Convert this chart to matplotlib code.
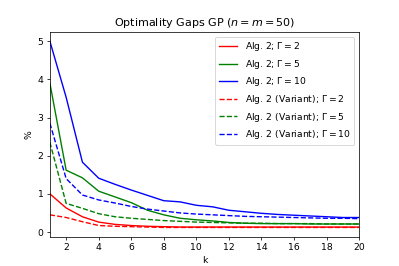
import matplotlib
matplotlib.use("Agg")
import matplotlib.pyplot as plt

k = list(range(1, 21))
alg_g2 = [1.0, 0.63, 0.40, 0.26, 0.20, 0.17, 0.15, 0.14, 0.13, 0.13, 0.13, 0.13, 0.13, 0.13, 0.13, 0.13, 0.13, 0.13, 0.13, 0.13]
alg_g5 = [3.9, 1.62, 1.42, 1.07, 0.92, 0.77, 0.57, 0.45, 0.36, 0.32, 0.29, 0.25, 0.23, 0.22, 0.22, 0.22, 0.21, 0.21, 0.21, 0.21]
alg_g10 = [5.0, 3.53, 1.83, 1.41, 1.25, 1.10, 0.96, 0.82, 0.79, 0.70, 0.66, 0.57, 0.53, 0.49, 0.46, 0.44, 0.42, 0.40, 0.38, 0.38]
var_g2 = [0.45, 0.38, 0.27, 0.17, 0.15, 0.14, 0.13, 0.12, 0.12, 0.12, 0.12, 0.12, 0.12, 0.12, 0.12, 0.12, 0.12, 0.12, 0.12, 0.12]
var_g5 = [2.35, 0.75, 0.62, 0.48, 0.40, 0.36, 0.33, 0.30, 0.28, 0.26, 0.25, 0.24, 0.23, 0.23, 0.22, 0.22, 0.22, 0.21, 0.21, 0.21]
var_g10 = [2.85, 1.40, 0.97, 0.84, 0.76, 0.67, 0.60, 0.55, 0.50, 0.47, 0.45, 0.43, 0.41, 0.40, 0.39, 0.38, 0.37, 0.36, 0.36, 0.35]
xticks = [2, 4, 6, 8, 10, 12, 14, 16, 18, 20]

fig, ax = plt.subplots(figsize=(6, 4), dpi=66.5)
ax.plot(k, alg_g2, color='red', label=r'Alg. 2; $\Gamma = 2$')
ax.plot(k, alg_g5, color='green', label=r'Alg. 2; $\Gamma = 5$')
ax.plot(k, alg_g10, color='blue', label=r'Alg. 2; $\Gamma = 10$')
ax.plot(k, var_g2, color='red', linestyle='--', label=r'Alg. 2 (Variant); $\Gamma = 2$')
ax.plot(k, var_g5, color='green', linestyle='--', label=r'Alg. 2 (Variant); $\Gamma = 5$')
ax.plot(k, var_g10, color='blue', linestyle='--', label=r'Alg. 2 (Variant); $\Gamma = 10$')
ax.set_xlim(1, 20)
ax.set_xticks(xticks)
ax.set_xlabel('k')
ax.set_ylabel('%')
ax.set_title(r'Optimality Gaps GP ($n = m = 50$)')
ax.legend(loc='upper right')
fig.savefig('out.png', dpi=66.5)
